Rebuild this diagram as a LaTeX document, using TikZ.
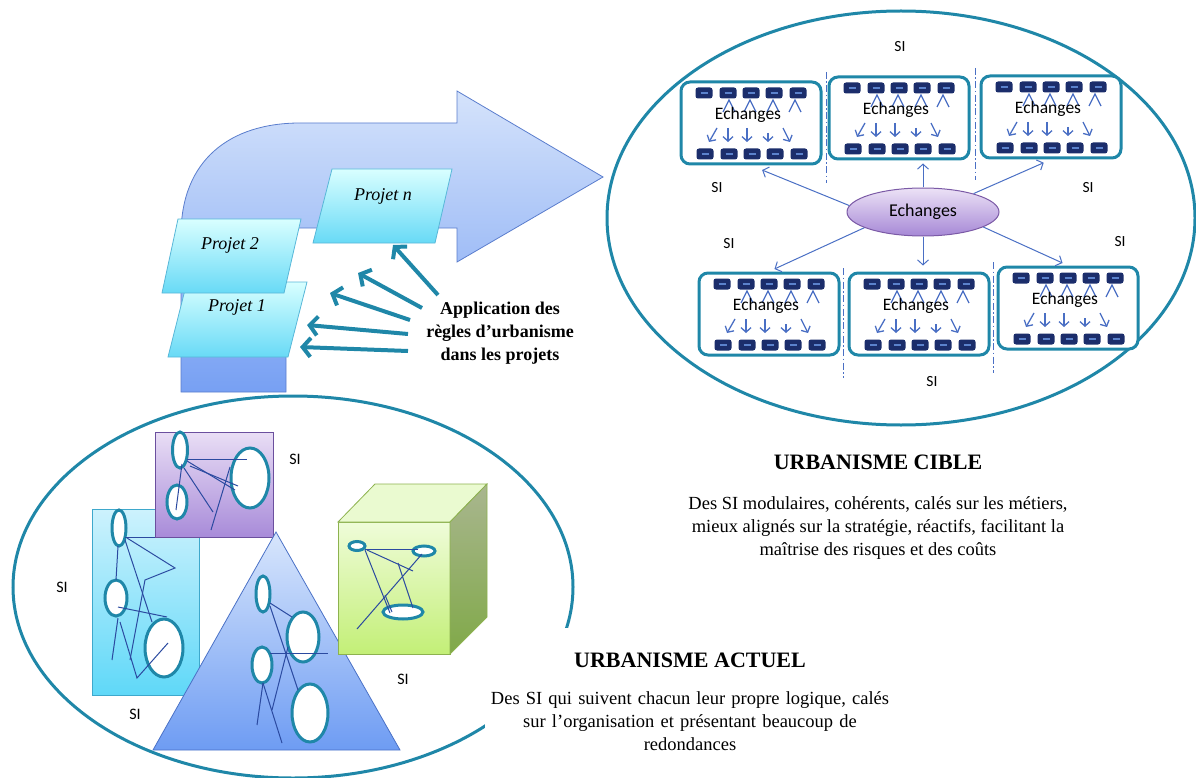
\documentclass[tikz,border=0pt]{standalone}
\usepackage{fontspec}
\setmainfont{Liberation Serif}
\newfontfamily\calibri{Carlito}
\usetikzlibrary{shapes.geometric,arrows.meta}
\definecolor{siteal}{HTML}{1F87A8}
\definecolor{btnnavy}{HTML}{1B2D6B}
\definecolor{btnline}{HTML}{5B82CC}
\definecolor{flowblue}{HTML}{4A6FC4}
\definecolor{wirenavy}{HTML}{2B4AA0}

\begin{document}
\begin{tikzpicture}[x=1pt,y=-1pt]
	\tikzstyle{ring}=[draw=siteal,line width=3pt]
	\tikzstyle{module}=[draw=siteal,line width=3pt,rounded corners=9pt,fill=white,minimum width=140pt,minimum height=82pt,inner sep=0pt]
	\tikzstyle{btn}=[fill=btnnavy,rounded corners=2.5pt,minimum width=17pt,minimum height=11pt,inner sep=0pt,
		path picture={\draw[btnline,line width=1.5pt] ([xshift=-3.5pt]path picture bounding box.center) -- ([xshift=3.5pt]path picture bounding box.center);}]
	\tikzstyle{chev}=[draw=flowblue,line width=1.3pt]
	\tikzstyle{flow}=[draw=flowblue,line width=1.3pt,-{Straight Barb[length=4.5pt,width=10pt]}]
	\tikzstyle{link}=[draw=flowblue,line width=1pt,-{Straight Barb[length=5pt,width=11pt]}]
	\tikzstyle{sep}=[draw=flowblue,line width=0.9pt,dash pattern=on 7pt off 2.5pt on 1.5pt off 2.5pt]
	\tikzstyle{echlabel}=[font=\calibri\fontsize{17.5}{20}\selectfont,inner sep=0pt]
	\tikzstyle{silab}=[font=\calibri\fontsize{15.5}{18}\selectfont,inner sep=0pt]
	\tikzstyle{proj}=[top color=cyan!15,bottom color={rgb,255:red,104;green,218;blue,246},draw={rgb,255:red,88;green,183;blue,216},line width=0.8pt]
	\tikzstyle{projlab}=[font=\itshape\fontsize{18}{21}\selectfont,inner sep=0pt]
	\tikzstyle{appl}=[draw=siteal,line width=4pt,-{Straight Barb[length=8pt,width=19pt]}]
	\tikzstyle{blob}=[ellipse,draw=siteal,line width=3pt,fill=white,inner sep=0pt]
	\tikzstyle{wire}=[draw=wirenavy,line width=1pt]
	\tikzstyle{title}=[font=\bfseries\fontsize{22}{26}\selectfont,fill=white,minimum width=410pt,minimum height=64pt,inner sep=0pt]
	\tikzstyle{body}=[font=\fontsize{18.5}{23}\selectfont,align=center,fill=white,text width=400pt,inner xsep=5pt,inner ysep=8pt]

	\useasboundingbox (0,0) rectangle (1196,778);

	% grande fleche des projets
	\shadedraw[top color={rgb,255:red,213;green,227;blue,251},bottom color={rgb,255:red,119;green,160;blue,243},draw={rgb,255:red,90;green,125;blue,205},line width=0.8pt]
		(181,392) -- (181,235) .. controls (181,160) and (230,123) .. (300,123) -- (457,123) -- (457,91) -- (603,177)
		-- (457,262) -- (457,228) -- (300,228) .. controls (292,228) and (286,234) .. (286,244) -- (286,392) -- cycle;

	\shadedraw[proj] (168,357) -- (187,282) -- (307,282) -- (288,357) -- cycle;
	\node[projlab] (p1) at (237,307) {Projet 1};
	\shadedraw[proj] (162,293) -- (178,219) -- (301,219) -- (284,293) -- cycle;
	\node[projlab] (p2) at (230,245) {Projet 2};
	\shadedraw[proj] (313,243) -- (332,169) -- (452,169) -- (435,243) -- cycle;
	\node[projlab] (pn) at (383,196) {Projet n};

	\node[font=\bfseries\fontsize{18}{23}\selectfont,align=center] (app) at (500,333) {Application des\\règles d’urbanisme\\dans les projets};
	\coordinate (s1) at (438,295); \coordinate (e1) at (393,245);
	\coordinate (s2) at (422,308); \coordinate (e2) at (358,273);
	\coordinate (s3) at (410,320); \coordinate (e3) at (330,293);
	\coordinate (s4) at (408,334); \coordinate (e4) at (307,325);
	\coordinate (s5) at (408,351); \coordinate (e5) at (300,347);
	\draw[appl] (s1) -- (e1);
	\draw[appl] (s2) -- (e2);
	\draw[appl] (s3) -- (e3);
	\draw[appl] (s4) -- (e4);
	\draw[appl] (s5) -- (e5);

	% urbanisme cible
	\draw[ring] (901,218) ellipse [x radius=294, y radius=207];
	\draw[sep] (826,72) -- (826,183);
	\draw[sep] (975,68) -- (975,180);
	\draw[sep] (843,268) -- (843,378);
	\draw[sep] (993,262) -- (993,373);

	\foreach \m/\cx/\cy in {m1/751/123,m2/899/118,m3/1051/117,m4/769/314,m5/919/314,m6/1068/308}{
		\node[module] (\m) at (\cx,\cy) {};
		\foreach \dx [count=\i] in {-47,-23,0,23,47}{
			\node[btn] (\m-t\i) at ({\cx+\dx},{\cy-30}) {};
			\node[btn] (\m-b\i) at ({\cx+\dx+1},{\cy+31}) {};
		}
		\foreach \dx in {-22,-1,22,44}
			\draw[chev] ({\cx+\dx-6},{\cy-11}) -- ({\cx+\dx},{\cy-23}) -- ({\cx+\dx+6},{\cy-11});
		\draw[flow] ({\cx-34},{\cy+5}) -- ({\cx-42},{\cy+19});
		\draw[flow] ({\cx-23},{\cy+5}) -- ({\cx-23},{\cy+19});
		\draw[flow] ({\cx-4},{\cy+5}) -- ({\cx-4},{\cy+19});
		\draw[flow] ({\cx+17},{\cy+10}) -- ({\cx+17},{\cy+19});
		\draw[flow] ({\cx+32},{\cy+5}) -- ({\cx+39},{\cy+19});
		\node[echlabel] (\m-lab) at ({\cx-3},{\cy-8}) {Echanges};
	}

	\node[ellipse,minimum width=152pt,minimum height=48pt,inner sep=0pt,draw={rgb,255:red,123;green,90;blue,166},line width=1pt,
		top color={rgb,255:red,236;green,226;blue,246},bottom color={rgb,255:red,166;green,136;blue,214},
		font=\calibri\fontsize{18}{21}\selectfont] (ech) at (923,212) {Echanges};
	\draw[link,shorten >=12pt] (ech.175) -- (m1.south);
	\draw[link,shorten >=3pt] (ech.north) -- (ech.north |- m2.south);
	\draw[link,shorten >=8pt] (ech.20) -- (m3.south);
	\draw[link,shorten >=6pt] (ech.195) -- (m4.north);
	\draw[link,shorten >=6pt] (ech.south) -- (ech.south |- m5.north);
	\draw[link,shorten >=6pt] (ech.-14) -- (m6.north);

	\node[silab] (si1) at (900,47) {SI};
	\node[silab] (si2) at (717,188) {SI};
	\node[silab] (si3) at (1088,188) {SI};
	\node[silab] (si4) at (729,244) {SI};
	\node[silab] (si5) at (1120,242) {SI};
	\node[silab] (si6) at (932,382) {SI};

	\node[font=\bfseries\fontsize{22}{26}\selectfont] (cible) at (878,462) {URBANISME CIBLE};
	\node[font=\fontsize{18.5}{23}\selectfont,align=center] (cibled) at (878,528) {Des SI modulaires, cohérents, calés sur les métiers,\\mieux alignés sur la stratégie, réactifs, facilitant la\\maîtrise des risques et des coûts};

	% urbanisme actuel
	\draw[ring] (293,587) ellipse [x radius=280, y radius=191];
	\node[title] (actuel) at (690,660) {URBANISME ACTUEL};
	\node[body] (actueld) at (690,721) {Des SI qui suivent chacun leur propre logique, calés\\sur l’organisation et présentant beaucoup de\\redondances};

	\shadedraw[top color={rgb,255:red,205;green,242;blue,253},bottom color={rgb,255:red,95;green,216;blue,248},draw={rgb,255:red,62;green,168;blue,204},line width=0.8pt] (92,509) rectangle (199,695);
	\node[blob,minimum width=14pt,minimum height=36pt] (ca) at (119,528) {};
	\node[blob,minimum width=22pt,minimum height=36pt] (cb) at (116,598) {};
	\node[blob,minimum width=38pt,minimum height=58pt] (cc) at (164,648) {};
	\draw[wire] (125,537) -- (155,537);
	\draw[wire] (127,538) -- (175,568) -- (145,580) -- (130,660);
	\draw[wire] (125,540) -- (152,622);
	\draw[wire] (118,546) -- (116,580);
	\draw[wire] (118,607) -- (167,617);
	\draw[wire] (118,618) -- (112,660);
	\draw[wire] (120,622) -- (137,678) -- (168,643);

	\shadedraw[top color={rgb,255:red,233;green,222;blue,245},bottom color={rgb,255:red,168;green,139;blue,217},draw={rgb,255:red,107;green,79;blue,158},line width=0.8pt] (155,432) rectangle (273,537);
	\node[blob,minimum width=15pt,minimum height=36pt] (pa) at (180,450) {};
	\node[blob,minimum width=20pt,minimum height=34pt] (pb) at (177,502) {};
	\node[blob,minimum width=38pt,minimum height=60pt] (pc) at (250,478) {};
	\draw[wire] (187,459) -- (247,459);
	\draw[wire] (187,461) -- (235,490);
	\draw[wire] (190,466) -- (238,486);
	\draw[wire] (184,468) -- (213,512);
	\draw[wire] (182,464) -- (176,510);
	\draw[wire] (230,467) -- (211,530);

	\shadedraw[top color={rgb,255:red,216;green,230;blue,252},bottom color={rgb,255:red,110;green,156;blue,243},draw={rgb,255:red,74;green,113;blue,198},line width=0.8pt] (153,750) -- (276,532) -- (400,750) -- cycle;
	\node[blob,minimum width=14pt,minimum height=36pt] (ta) at (263,594) {};
	\node[blob,minimum width=32pt,minimum height=50pt] (tb) at (303,637) {};
	\node[blob,minimum width=20pt,minimum height=36pt] (tc) at (262,665) {};
	\node[blob,minimum width=36pt,minimum height=58pt] (td) at (310,713) {};
	\draw[wire] (270,603) -- (292,617);
	\draw[wire] (270,606) -- (298,690);
	\draw[wire] (270,653) -- (328,653);
	\draw[wire] (288,647) -- (272,710);
	\draw[wire] (263,683) -- (257,725);
	\draw[wire] (263,683) -- (282,743);

	\shadedraw[top color={rgb,255:red,239;green,252;blue,217},bottom color={rgb,255:red,195;green,239;blue,119},draw={rgb,255:red,141;green,178;blue,79},line width=0.8pt] (338,522) rectangle (450,654);
	\filldraw[fill={rgb,255:red,234;green,250;blue,208},draw={rgb,255:red,141;green,178;blue,79},line width=0.8pt] (338,522) -- (375,484) -- (487,484) -- (450,522) -- cycle;
	\shadedraw[top color={rgb,255:red,169;green,182;blue,143},bottom color={rgb,255:red,128;green,169;blue,72},draw={rgb,255:red,141;green,178;blue,79},line width=0.8pt] (450,522) -- (487,484) -- (487,617) -- (450,654) -- cycle;
	\node[blob,minimum width=16pt,minimum height=9pt] (ka) at (357,546) {};
	\node[blob,minimum width=22pt,minimum height=10pt] (kb) at (424,551) {};
	\node[blob,minimum width=40pt,minimum height=14pt] (kc) at (403,612) {};
	\draw[wire] (365,549) -- (418,549);
	\draw[wire] (365,550) -- (390,613);
	\draw[wire] (367,550) -- (413,571);
	\draw[wire] (398,563) -- (413,608);
	\draw[wire] (422,554) -- (357,629);
	\draw[wire] (385,595) -- (392,612);

	\node[silab,font=\calibri\fontsize{16}{19}\selectfont] (si7) at (295,459) {SI};
	\node[silab,font=\calibri\fontsize{16}{19}\selectfont] (si8) at (62,587) {SI};
	\node[silab,font=\calibri\fontsize{16}{19}\selectfont] (si9) at (135,714) {SI};
	\node[silab,font=\calibri\fontsize{16}{19}\selectfont] (si10) at (403,679) {SI};
\end{tikzpicture}
\end{document}
